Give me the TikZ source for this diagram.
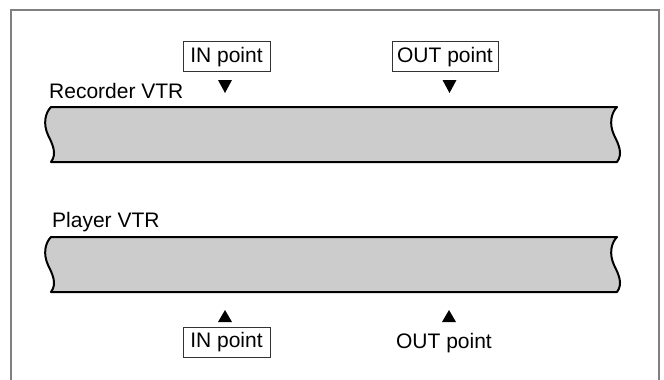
\documentclass[tikz,border=0pt]{standalone}
\usepackage{fontspec}
\setmainfont{Liberation Sans}
\begin{document}
\begin{tikzpicture}[x=1pt,y=-1pt,
  lbl/.style={inner sep=0pt,font=\fontsize{21}{25}\selectfont},
  ptbox/.style={draw=black!80,line width=1pt,inner sep=0pt,minimum height=30pt,text height=15pt,text depth=4pt,font=\fontsize{21}{25}\selectfont},
  tape/.style={fill=black!20,draw=black,line width=2pt,line join=round},
  tri/.style={fill=black,draw=none},
  frame/.style={draw=black!50,line width=1.5pt}]
\useasboundingbox (0,0) rectangle (664,380);
% frame
\draw[frame] (11,380) -- (11,10) -- (659,10) -- (659,380);
% recorder tape
\draw[tape] (51,107) -- (617,107)
  .. controls (611,113) and (609,124) .. (614,135)
  .. controls (619,145) and (623,154) .. (617,162)
  -- (51,162)
  .. controls (57,154) and (53,145) .. (48,135)
  .. controls (43,124) and (45,113) .. (51,107) -- cycle;
% player tape
\draw[tape] (51,237) -- (617,237)
  .. controls (611,243) and (609,254) .. (614,265)
  .. controls (619,275) and (623,284) .. (617,292)
  -- (51,292)
  .. controls (57,284) and (53,275) .. (48,265)
  .. controls (43,254) and (45,243) .. (51,237) -- cycle;
% labels
\node[lbl,anchor=base west] (rec) at (49,98) {Recorder VTR};
\node[lbl,anchor=base west] (ply) at (52,227) {Player VTR};
\node[ptbox,minimum width=87pt] (rin) at (226.5,56.5) {IN point};
\node[ptbox,minimum width=106pt] (rout) at (445,56.5) {OUT point};
\node[ptbox,minimum width=87pt] (pin) at (226.5,342) {IN point};
\node[lbl,anchor=base] (pout) at (444,348) {OUT point};
% triangles
\fill[tri] (218,80) -- (232,80) -- (225,93) -- cycle;
\fill[tri] (442.5,80) -- (456.5,80) -- (449.5,93) -- cycle;
\fill[tri] (218,322) -- (232,322) -- (225,310) -- cycle;
\fill[tri] (442,322) -- (456,322) -- (449,310) -- cycle;
\end{tikzpicture}
\end{document}
